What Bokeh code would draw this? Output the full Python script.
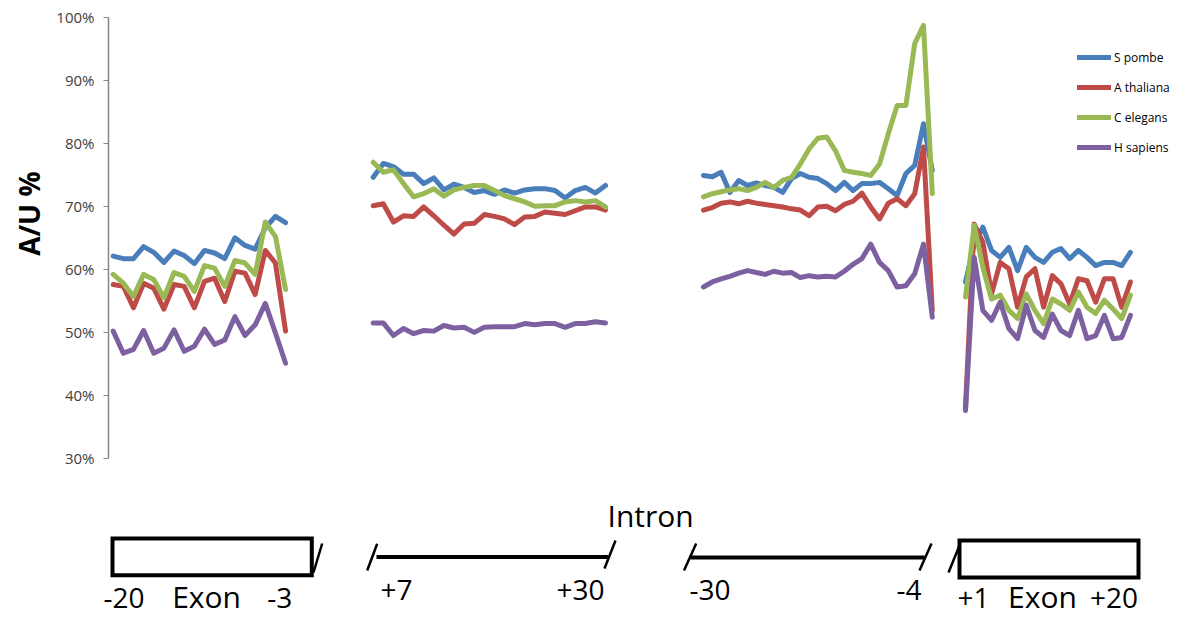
import math
from bokeh.plotting import figure
from bokeh.models import (Range1d, FixedTicker, PrintfTickFormatter, Legend,
                          LegendItem)
from bokeh.core.properties import value
from bokeh.embed import file_html
from bokeh.resources import INLINE

# ---------------- data (A/U %) ----------------
series_names = ["S pombe", "A thaliana", "C elegans", "H sapiens"]

# segment position labels
exon5_pos = list(range(-20, -2))     # -20 .. -3  (exon, 5' side)
intron5_pos = list(range(7, 31))     # +7 .. +30  (intron start)
intron3_pos = list(range(-30, -3))   # -30 .. -4  (intron end)
exon3_pos = list(range(1, 21))       # +1 .. +20  (exon, 3' side)

spombe_exon5 = [62.1, 61.7, 61.7, 63.6, 62.7, 61.1, 62.9, 62.2, 60.9, 63.0, 62.6, 61.7,
                65.0, 63.8, 63.2, 66.6, 68.4, 67.4]
athal_exon5 = [57.6, 57.3, 53.9, 57.8, 57.0, 53.7, 57.6, 57.3, 53.9, 58.1, 58.6, 54.9,
               59.7, 59.4, 56.0, 63.0, 61.0, 50.2]
celeg_exon5 = [59.2, 57.8, 55.7, 59.2, 58.4, 55.5, 59.5, 58.9, 56.5, 60.6, 60.2, 57.3,
               61.4, 61.0, 59.2, 67.5, 65.2, 56.8]
hsap_exon5 = [50.2, 46.7, 47.3, 50.3, 46.7, 47.5, 50.4, 47.0, 47.8, 50.5, 48.1, 48.8,
              52.5, 49.5, 51.2, 54.6, 49.9, 45.1]

spombe_intron5 = [74.6, 76.8, 76.3, 75.1, 75.1, 73.6, 74.5, 72.6, 73.5, 73.0, 72.2, 72.5,
                  71.9, 72.6, 72.1, 72.6, 72.8, 72.8, 72.5, 71.3, 72.5, 73.0, 72.1, 73.3]
athal_intron5 = [70.1, 70.4, 67.5, 68.5, 68.4, 69.9, 68.5, 67.0, 65.6, 67.2, 67.3, 68.7,
                 68.4, 68.0, 67.1, 68.3, 68.4, 69.1, 68.9, 68.7, 69.3, 69.9, 69.9, 69.4]
celeg_intron5 = [77.0, 75.4, 75.8, 73.6, 71.5, 72.0, 72.8, 71.6, 72.6, 73.0, 73.3, 73.3,
                 72.5, 71.7, 71.2, 70.7, 70.0, 70.1, 70.1, 70.7, 70.9, 70.7, 70.9, 69.9]
hsap_intron5 = [51.5, 51.5, 49.5, 50.6, 49.8, 50.3, 50.2, 51.1, 50.7, 50.8, 50.0, 50.8,
                50.9, 50.9, 50.9, 51.4, 51.2, 51.4, 51.4, 50.8, 51.4, 51.4, 51.7, 51.5]

spombe_intron3 = [74.9, 74.7, 75.4, 72.2, 74.1, 73.3, 73.7, 73.3, 73.0, 72.2, 74.4, 75.2,
                  74.6, 74.4, 73.6, 72.5, 73.8, 72.5, 73.6, 73.6, 73.8, 72.8, 71.7, 75.2,
                  76.5, 83.1, 75.7]
athal_intron3 = [69.4, 69.8, 70.5, 70.7, 70.4, 70.8, 70.5, 70.3, 70.1, 69.9, 69.6, 69.4,
                 68.5, 69.9, 70.0, 69.3, 70.3, 70.8, 72.1, 69.9, 68.0, 70.5, 71.2, 70.1,
                 72.0, 79.4, 53.5]
celeg_intron3 = [71.5, 72.0, 72.3, 72.6, 72.8, 72.5, 73.0, 73.8, 73.0, 74.1, 74.6, 76.7,
                 79.1, 80.8, 81.0, 78.8, 75.7, 75.4, 75.2, 74.9, 76.7, 81.5, 86.0, 86.0,
                 95.8, 98.7, 72.0]
hsap_intron3 = [57.2, 58.0, 58.5, 58.9, 59.4, 59.8, 59.5, 59.2, 59.7, 59.4, 59.5, 58.7,
                59.0, 58.8, 58.9, 58.8, 59.7, 60.8, 61.7, 64.0, 61.1, 59.8, 57.2, 57.4,
                59.3, 64.0, 52.4]

spombe_exon3 = [58.0, 64.0, 66.7, 63.0, 61.9, 63.5, 59.8, 63.5, 61.9, 61.1, 62.7, 63.3,
                61.7, 63.0, 61.9, 60.6, 61.1, 61.1, 60.6, 62.7]
athal_exon3 = [38.1, 67.2, 64.3, 56.1, 61.1, 60.1, 54.0, 58.8, 60.1, 54.0, 59.0, 57.7,
               54.5, 58.5, 58.2, 54.8, 58.5, 58.5, 54.0, 58.0]
celeg_exon3 = [55.6, 67.0, 60.3, 55.3, 55.9, 53.5, 52.2, 56.1, 53.5, 51.4, 55.3, 54.5,
               53.5, 56.4, 54.0, 53.0, 55.1, 53.7, 52.2, 55.9]
hsap_exon3 = [37.6, 61.9, 53.5, 51.9, 54.8, 50.6, 49.0, 54.3, 50.3, 49.2, 52.9, 50.3,
              49.5, 53.5, 49.0, 49.5, 52.7, 49.0, 49.2, 52.7]

y_ticks = [30, 40, 50, 60, 70, 80, 90, 100]

# ---------------- layout / style ----------------
colors = ["#4A7EBB", "#BE4B48", "#98B954", "#7D60A0"]
# each segment: (positions, start on the x scale, step on the x scale)
segments = [(exon5_pos, 112.7, 10.14), (intron5_pos, 372.7, 10.1),
            (intron3_pos, 703.0, 8.8), (exon3_pos, 965.0, 8.68)]
series_values = [
    [spombe_exon5, spombe_intron5, spombe_intron3, spombe_exon3],
    [athal_exon5, athal_intron5, athal_intron3, athal_exon3],
    [celeg_exon5, celeg_intron5, celeg_intron3, celeg_exon3],
    [hsap_exon5, hsap_intron5, hsap_intron3, hsap_exon3],
]

W, H = 1186, 617
AXIS_X = 108
p = figure(width=W, height=H, x_range=Range1d(0, W), y_range=Range1d(4.77, 102.65),
           output_backend="svg", toolbar_location=None, x_axis_type=None,
           min_border_left=0, min_border_right=0, min_border_top=0, min_border_bottom=0)
p.title.visible = False
p.grid.visible = False
p.outline_line_color = None
p.background_fill_color = "white"
p.border_fill_color = "white"
p.extra_y_ranges = {"px": Range1d(H, 0)}

ya = p.yaxis[0]
ya.fixed_location = AXIS_X
ya.ticker = FixedTicker(ticks=y_ticks)
ya.formatter = PrintfTickFormatter(format="%d%%")
ya.bounds = (30, 100)
ya.axis_line_color = "#868686"
ya.axis_line_width = 1.5
ya.major_tick_line_color = "#868686"
ya.major_tick_out = 5
ya.major_tick_in = 0
ya.minor_tick_line_color = None
ya.major_label_text_font = "Open Sans"
ya.major_label_text_font_size = "15px"
ya.major_label_text_color = "#404040"
ya.major_label_standoff = 9

# y axis title, centred on the 30%..100% span as in the reference
p.text(x=[28], y=[213], text=["A/U %"], angle=math.pi / 2,
       text_align="center", text_baseline="middle",
       text_font=value("Open Sans"), text_font_style="bold",
       text_font_size="28px", text_color="#000000", y_range_name="px")

renderers = []
for name, color, segvals in zip(series_names, colors, series_values):
    xs, ys = [], []
    for (pos, x0, dx), vals in zip(segments, segvals):
        for k, v in enumerate(vals):
            xs.append(x0 + (pos[k] - pos[0]) * dx)
            ys.append(v)
        xs.append(float("nan"))
        ys.append(float("nan"))
    r = p.line(xs, ys, line_color=color, line_width=5, line_join="round", line_cap="round")
    renderers.append((name, r))

legend = Legend(items=[LegendItem(label=n, renderers=[r]) for n, r in renderers],
                location=(1077, 460), orientation="vertical",
                glyph_width=34, glyph_height=20, label_height=20, label_standoff=3,
                spacing=10, padding=0, margin=0, border_line_color=None,
                background_fill_alpha=0, label_text_font="Open Sans",
                label_text_font_size="12px", label_text_color="#000000")
p.add_layout(legend)

# ---------------- gene-structure schematic below the chart ----------------
p.quad(left=[112, 959], right=[311.3, 1138], top=[538, 540], bottom=[574.7, 577],
       fill_color=None, line_color="black", line_width=4, line_join="miter",
       y_range_name="px")
p.segment(x0=[376, 690], y0=[556.5, 557], x1=[608, 924], y1=[556.5, 557],
          line_color="black", line_width=4, y_range_name="px")
p.segment(x0=[313, 366.7, 604, 683.5, 919, 948], y0=[572, 570, 568, 570, 570, 572],
          x1=[321.7, 376.7, 615, 695.7, 931, 959], y1=[543, 543.3, 540, 543, 543, 545],
          line_color="black", line_width=2.5, y_range_name="px")

p.text(x=[103, 266.7, 380, 556, 689, 896, 957, 1089.5],
       y=[597, 597, 589, 589, 589, 589, 597, 597],
       text=["-20", "-3", "+7", "+30", "-30", "-4", "+1", "+20"],
       text_font=value("Open Sans"), text_font_size="28px", text_color="black",
       text_baseline="middle", text_align="left", y_range_name="px")
p.text(x=[171.7, 1007.6, 607], y=[596, 596, 515], text=["Exon", "Exon", "Intron"],
       text_font=value("Open Sans"), text_font_size="30px", text_color="black",
       text_baseline="middle", text_align="left", y_range_name="px")

open("out.html", "w").write(file_html(p, INLINE))
